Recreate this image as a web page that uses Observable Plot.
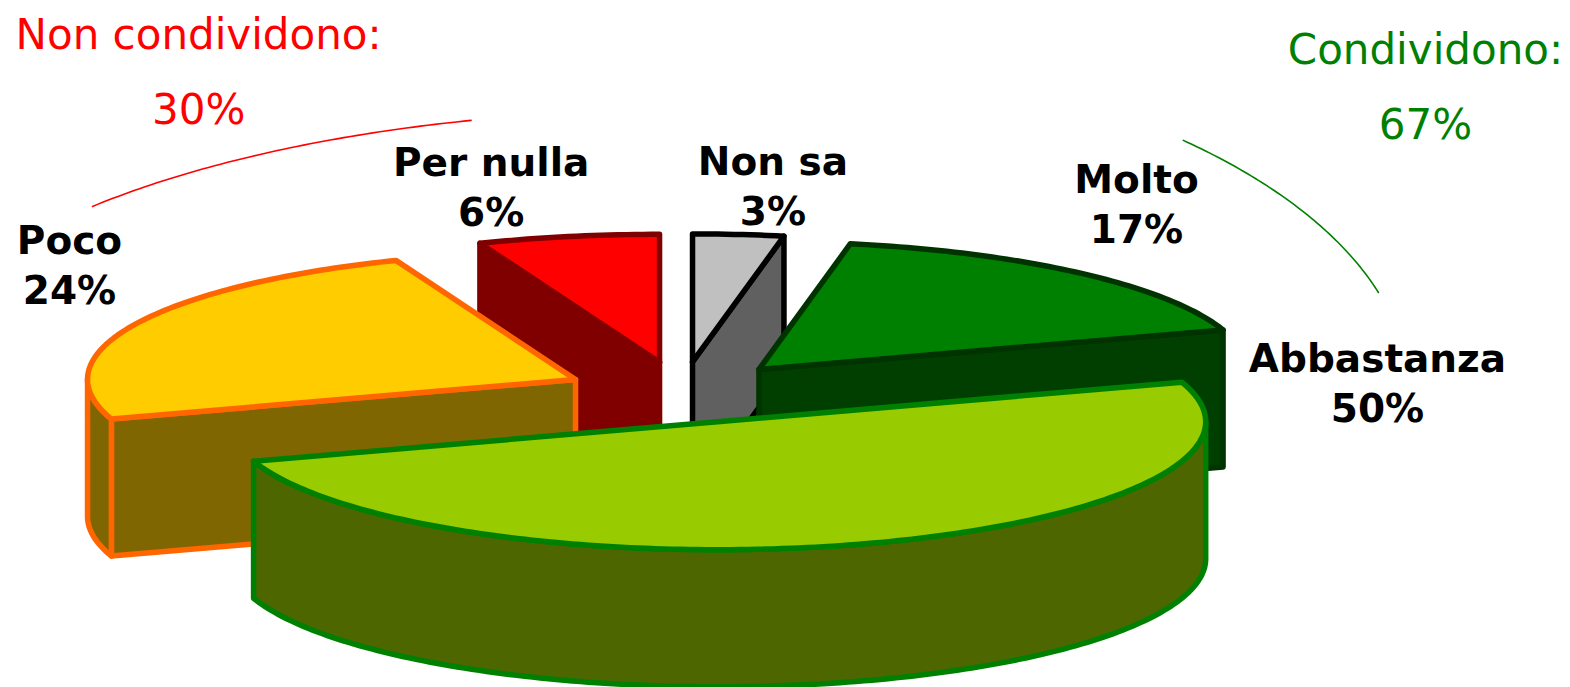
<!DOCTYPE html>
<html><head><meta charset="utf-8">
<script src="https://cdn.jsdelivr.net/npm/d3@7"></script>
<script src="https://cdn.jsdelivr.net/npm/@observablehq/plot@0.6"></script>
<style>html,body{margin:0;padding:0;background:#fff;} svg{display:block}</style>
</head><body><div id="chart"></div>
<script>
// ---- data ----
const categories = ["Molto", "Abbastanza", "Poco", "Per nulla", "Non sa"];
const values = [17, 50, 24, 6, 3];
const groupNames = ["Non condividono:", "Condividono:"];
const groupMembers = [["Poco", "Per nulla"], ["Molto", "Abbastanza"]];

// ---- styles ----
const topColors = ["#008000", "#99CC00", "#FFCC00", "#FF0000", "#C0C0C0"];
const sideColors = ["#003F00", "#4D6600", "#806600", "#800000", "#606060"];
const edgeColors = ["#003300", "#008000", "#FF6600", "#800000", "#000000"];
const groupColors = ["#FF0000", "#008000"];

// ---- layout (pie units: radius = 1) ----
const W = 1570, H = 687, PX = 488;
const OX = 681, OY = 392;
const TILT = 128 / 488, DEPTH = 137 / 488, EXPLODE = 0.24;
const labelPolar = [[32.0, 1.7595], [86.55, 1.4288], [309.0, 1.6138], [346.5, 1.671], [6.58, 1.6358]];
const groupTextPolar = [[-20.97, 2.765], [31.74, 2.898]];
const groupArcPolar = [[-48.8, -15.6, 1.604, 2.207], [43.6, 73.3, 1.491, 2.720]];

const rad = d => d * Math.PI / 180;
const total = d3.sum(values);
const start = 2 * Math.PI * values[values.length - 1] / total;
const arcs = d3.pie().sort(null).startAngle(start).endAngle(start + 2 * Math.PI)(values);

const slices = arcs.map((a, i) => {
  const mid = (a.startAngle + a.endAngle) / 2;
  return {i, a0: a.startAngle, a1: a.endAngle, mid,
    cx: EXPLODE * Math.sin(mid), cy: -EXPLODE * TILT * Math.cos(mid)};
}).sort((p, q) => (-Math.cos(p.mid)) - (-Math.cos(q.mid)));

function arcPts(cx, cy, lo, hi, dy = 0) {
  const n = Math.max(2, Math.ceil(Math.abs(hi - lo) / rad(1)) + 1);
  return d3.range(n).map(k => {
    const a = lo + (hi - lo) * k / (n - 1);
    return [cx + Math.sin(a), cy - TILT * Math.cos(a) + dy];
  });
}

const rows = [];
let pid = 0;
function addPoly(pts, fill, stroke) {
  const id = pid++;
  [...pts, pts[0]].forEach(([x, y]) => rows.push({id, x, y, fill, stroke}));
}

for (const s of slices) {
  const side = sideColors[s.i], edge = edgeColors[s.i];
  const radial = a => {
    const p = [s.cx + Math.sin(a), s.cy - TILT * Math.cos(a)];
    addPoly([[s.cx, s.cy], p, [p[0], p[1] + DEPTH], [s.cx, s.cy + DEPTH]], side, edge);
  };
  if (Math.sin(s.a0) < -1e-9) radial(s.a0);
  if (Math.sin(s.a1) > 1e-9) radial(s.a1);
  for (const k of [0, 1]) {
    const lo = Math.max(s.a0, Math.PI / 2 + 2 * Math.PI * k);
    const hi = Math.min(s.a1, 3 * Math.PI / 2 + 2 * Math.PI * k);
    if (hi > lo) {
      addPoly([...arcPts(s.cx, s.cy, lo, hi), ...arcPts(s.cx, s.cy, hi, lo, DEPTH)], side, edge);
    }
  }
  addPoly([[s.cx, s.cy], ...arcPts(s.cx, s.cy, s.a0, s.a1)], topColors[s.i], edge);
}

const labels = categories.map((c, i) => {
  const [a, r] = labelPolar[i];
  return {x: r * Math.sin(rad(a)), y: -r * TILT * Math.cos(rad(a)), text: `${c}\n${values[i]}%`};
});

const groupTexts = groupNames.map((g, j) => {
  const [a, r] = groupTextPolar[j];
  const pct = d3.sum(groupMembers[j], m => values[categories.indexOf(m)]);
  return {x: r * Math.sin(rad(a)), y: -r * TILT * Math.cos(rad(a)), text: `${g}\n${pct}%`, color: groupColors[j]};
});

const arcRows = [];
groupArcPolar.forEach(([t0, t1, ra, rb], j) => {
  d3.range(61).forEach(k => {
    const t = rad(t0 + (t1 - t0) * k / 60);
    arcRows.push({g: j, x: ra * Math.sin(t), y: -rb * TILT * Math.cos(t), color: groupColors[j]});
  });
});

const chart = Plot.plot({
  width: W, height: H, margin: 0,
  style: {background: "#fff", overflow: "visible"},
  x: {domain: [-OX / PX, (W - OX) / PX], range: [0, W], axis: null},
  y: {domain: [-OY / PX, (H - OY) / PX], range: [0, H], axis: null},
  color: {type: "identity"},
  marks: [
    Plot.line(rows, {x: "x", y: "y", z: "id", fill: "fill", stroke: "stroke",
      strokeWidth: 5.5, strokeLinejoin: "round", curve: "linear"}),
    Plot.line(arcRows, {x: "x", y: "y", z: "g", stroke: "color", strokeWidth: 1.6, curve: "linear"}),
    Plot.text(labels, {x: "x", y: "y", text: "text", fontSize: 39, fontWeight: "bold",
      fontFamily: "DejaVu Sans", fill: "#000", lineHeight: 50 / 39, lineAnchor: "middle", textAnchor: "middle"}),
    Plot.text(groupTexts, {x: "x", y: "y", text: "text", fontSize: 42,
      fontFamily: "DejaVu Sans", fill: "color", lineHeight: 75 / 42, lineAnchor: "middle", textAnchor: "middle"})
  ]
});
document.getElementById("chart").appendChild(chart);
</script>
</body></html>
